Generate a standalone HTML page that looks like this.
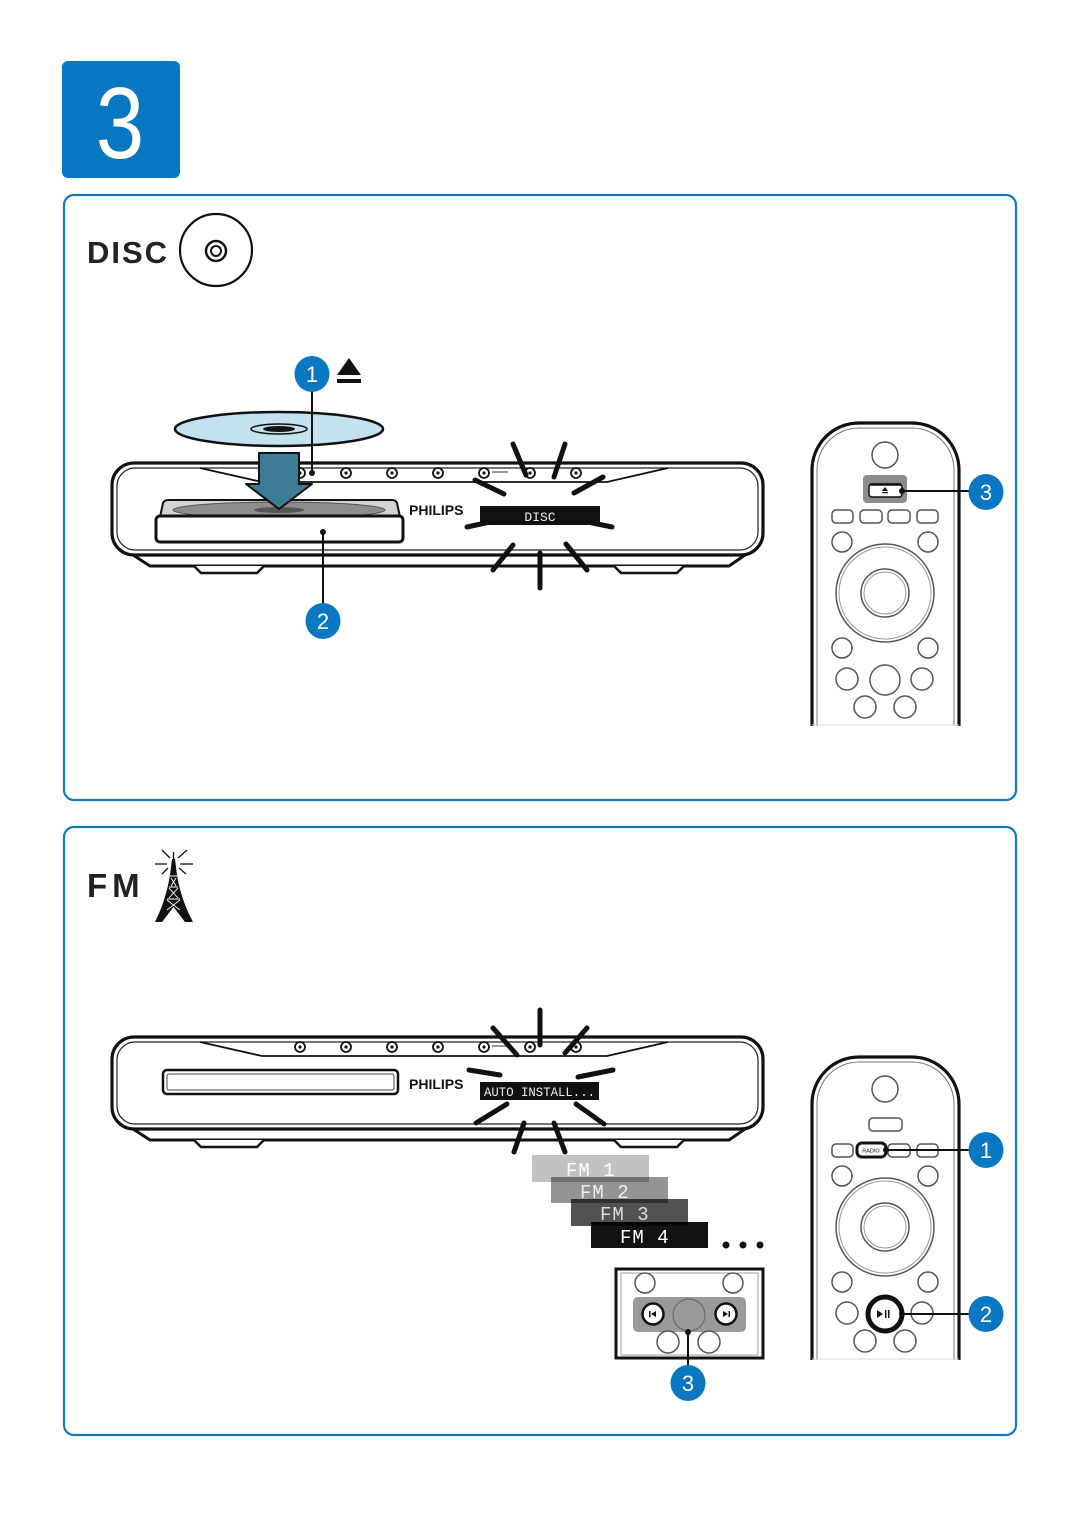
<!DOCTYPE html>
<html><head><meta charset="utf-8"><style>
html,body{margin:0;padding:0;background:#fff;}
svg{display:block;}
</style></head><body>
<svg width="1080" height="1527" viewBox="0 0 1080 1527" xmlns="http://www.w3.org/2000/svg" font-family="'Liberation Sans', sans-serif">
<defs>
  <g id="body">
    <path d="M130 553 L150 566 L729 566 L748 553 Z" fill="#fff" stroke="#111" stroke-width="3" stroke-linejoin="round"/>
    <path d="M194 566 L201 573 L257 573 L264 566" fill="#fff" stroke="#111" stroke-width="2.5"/>
    <path d="M614 566 L621 573 L677 573 L684 566" fill="#fff" stroke="#111" stroke-width="2.5"/>
    <rect x="112" y="463" width="651" height="92" rx="22" fill="#fff" stroke="#111" stroke-width="3.2"/>
    <rect x="117" y="468" width="641" height="82" rx="18" fill="none" stroke="#222" stroke-width="1.2"/>
    <path d="M200 468 L262 482 L607 482 L668 468" fill="none" stroke="#111" stroke-width="1.8"/>
    <g fill="#fff" stroke="#111" stroke-width="1.8">
      <circle cx="300" cy="473" r="5"/><circle cx="346" cy="473" r="5"/><circle cx="392" cy="473" r="5"/>
      <circle cx="438" cy="473" r="5"/><circle cx="484" cy="473" r="5"/><circle cx="530" cy="473" r="5"/>
      <circle cx="576" cy="473" r="5"/>
    </g>
    <g fill="#111">
      <circle cx="300" cy="473" r="1.6"/><circle cx="346" cy="473" r="1.6"/><circle cx="392" cy="473" r="1.6"/>
      <circle cx="438" cy="473" r="1.6"/><circle cx="484" cy="473" r="1.6"/><circle cx="530" cy="473" r="1.6"/>
      <circle cx="576" cy="473" r="1.6"/>
    </g>
    <rect x="492" y="471" width="16" height="2" fill="#999"/>
    <text x="409" y="515" font-size="14" font-weight="bold" fill="#111">PHILIPS</text>
  </g>
  <g id="remote">
    <path d="M812 726 L812 470 A47 47 0 0 1 859 423 L912 423 A47 47 0 0 1 959 470 L959 726" fill="#fff" stroke="#111" stroke-width="3.2"/>
    <path d="M817 726 L817 471 A42 42 0 0 1 859 428 L912 428 A42 42 0 0 1 954 471 L954 726" fill="none" stroke="#777" stroke-width="1"/>
    <line x1="812" y1="725" x2="959" y2="725" stroke="#ddd" stroke-width="1"/>
    <g fill="#fff" stroke="#555" stroke-width="1.5">
      <circle cx="885" cy="455" r="13"/>
      <rect x="869" y="484" width="33" height="13" rx="4"/>
      <rect x="832" y="510" width="21" height="13" rx="4"/>
      <rect x="860" y="510" width="22" height="13" rx="4"/>
      <rect x="888" y="510" width="22" height="13" rx="4"/>
      <rect x="917" y="510" width="21" height="13" rx="4"/>
      <circle cx="842" cy="542" r="10"/>
      <circle cx="928" cy="542" r="10"/>
      <circle cx="885" cy="593" r="49"/>
      <circle cx="885" cy="593" r="24"/>
      <circle cx="842" cy="648" r="10"/>
      <circle cx="928" cy="648" r="10"/>
      <circle cx="847" cy="679" r="11"/>
      <circle cx="885" cy="680" r="15"/>
      <circle cx="922" cy="679" r="11"/>
      <circle cx="865" cy="707" r="11"/>
      <circle cx="905" cy="707" r="11"/>
    </g>
    <g fill="none" stroke="#999" stroke-width="1">
      <circle cx="885" cy="593" r="46"/>
      <circle cx="885" cy="593" r="21"/>
    </g>
  </g>
</defs>

<!-- step number -->
<rect x="62" y="61" width="118" height="117" rx="6" fill="#0877c1"/>
<text transform="translate(120,158) scale(0.86,1)" x="0" y="0" font-size="101" fill="#fff" text-anchor="middle">3</text>

<!-- panels -->
<rect x="64" y="195" width="952" height="605" rx="10" fill="none" stroke="#1479c4" stroke-width="2.2"/>
<rect x="64" y="827" width="952" height="608" rx="10" fill="none" stroke="#1479c4" stroke-width="2.2"/>

<!-- DISC header -->
<text x="87" y="263" font-size="31" font-weight="bold" letter-spacing="2" fill="#222">DISC</text>
<circle cx="216" cy="250" r="36" fill="none" stroke="#111" stroke-width="2.2"/>
<circle cx="216" cy="251" r="10" fill="none" stroke="#111" stroke-width="2.4"/>
<circle cx="216" cy="251" r="5" fill="none" stroke="#111" stroke-width="2"/>

<!-- DISC device -->
<use href="#body"/>
<!-- tray -->
<path d="M160 517 L163 503 Q164 500 169 500 L392 500 Q396 500 397 503 L400 517 Z" fill="#d4d4d4" stroke="#111" stroke-width="2"/>
<ellipse cx="279" cy="510" rx="106" ry="8" fill="#8d8d8d" stroke="#555" stroke-width="1"/>
<ellipse cx="279" cy="510" rx="25" ry="3" fill="#555"/>
<rect x="156" y="516" width="247" height="26" rx="4" fill="#fff" stroke="#111" stroke-width="3"/>
<!-- disc -->
<ellipse cx="279" cy="429" rx="104" ry="17" fill="#c3e1ef" stroke="#111" stroke-width="2.5"/>
<ellipse cx="279" cy="429" rx="28" ry="5" fill="#c3e1ef" stroke="#111" stroke-width="1.5"/>
<ellipse cx="279" cy="429" rx="16" ry="3" fill="#111"/>
<!-- arrow -->
<path d="M259 453 L299 453 L299 484 L312 484 L279 509 L246 484 L259 484 Z" fill="#3c7d95" stroke="#111" stroke-width="2" stroke-linejoin="round"/>
<!-- eject symbol -->
<polygon points="337,375 361,375 349,358" fill="#111"/>
<rect x="337" y="379" width="24" height="4" fill="#111"/>
<!-- display -->
<rect x="480" y="506" width="120" height="19" fill="#111"/>
<text x="540" y="521" font-family="'Liberation Mono', monospace" font-size="13" fill="#eee" text-anchor="middle">DISC</text>
<g stroke="#111" stroke-width="5" stroke-linecap="round">
  <line x1="513" y1="444" x2="526" y2="475"/>
  <line x1="565" y1="444" x2="554" y2="477"/>
  <line x1="475" y1="480" x2="504" y2="494"/>
  <line x1="603" y1="477" x2="574" y2="493"/>
  <line x1="467" y1="527" x2="499" y2="520"/>
  <line x1="578" y1="520" x2="612" y2="527"/>
  <line x1="493" y1="570" x2="513" y2="545"/>
  <line x1="540" y1="553" x2="540" y2="588"/>
  <line x1="566" y1="544" x2="587" y2="570"/>
</g>
<!-- callouts disc -->
<line x1="312" y1="390" x2="312" y2="473" stroke="#111" stroke-width="2"/>
<circle cx="312" cy="473" r="3" fill="#111"/>
<ellipse cx="312" cy="374" rx="17.5" ry="18" fill="#0a77c2"/>
<text x="312" y="382" font-size="22" fill="#fff" text-anchor="middle">1</text>
<line x1="323" y1="532" x2="323" y2="606" stroke="#111" stroke-width="2"/>
<circle cx="323" cy="532" r="3" fill="#111"/>
<ellipse cx="323" cy="621" rx="17.5" ry="18" fill="#0a77c2"/>
<text x="323" y="629" font-size="22" fill="#fff" text-anchor="middle">2</text>

<!-- remote 1 -->
<use href="#remote"/>
<rect x="863" y="475" width="44" height="28" rx="4" fill="#8c8c8c"/>
<rect x="869" y="484" width="33" height="13" rx="3" fill="#fff" stroke="#111" stroke-width="1.5"/>
<line x1="870" y1="484.5" x2="901" y2="484.5" stroke="#111" stroke-width="2.5"/>
<polygon points="882,491 888,491 885,487" fill="#111"/>
<rect x="882" y="492" width="6" height="1.2" fill="#111"/>
<line x1="902" y1="491" x2="970" y2="491" stroke="#111" stroke-width="2"/>
<circle cx="902" cy="491" r="3" fill="#111"/>
<ellipse cx="986" cy="492" rx="17.5" ry="18" fill="#0a77c2"/>
<text x="986" y="500" font-size="22" fill="#fff" text-anchor="middle">3</text>

<!-- FM header -->
<text x="87" y="897" font-size="33" font-weight="bold" letter-spacing="5" fill="#222">FM</text>
<g stroke="#111" stroke-width="1.3">
  <line x1="155" y1="864" x2="167" y2="864"/>
  <line x1="180" y1="864" x2="193" y2="864"/>
  <line x1="162" y1="850" x2="170" y2="858"/>
  <line x1="187" y1="850" x2="178" y2="858"/>
  <line x1="162" y1="874" x2="168" y2="868"/>
  <line x1="186" y1="874" x2="179" y2="868"/>
  <line x1="173.5" y1="852" x2="173.5" y2="860"/>
</g>
<path d="M172 859 L175 859 L177 875 Q181 900 193 922 L185 922 L173.5 907 L162 922 L155 922 Q166 900 170 875 Z" fill="#111"/>
<g stroke="#fff" stroke-width="0.9" fill="none">
  <path d="M171 878 L176 886 M176 878 L171 886"/>
  <path d="M169 888 L178 898 M178 888 L169 898"/>
  <path d="M167 900 L180 910 M180 900 L167 910"/>
  <path d="M170 876 L177 876 M169 887 L178 887 M167 899 L180 899"/>
</g>

<!-- FM device -->
<use href="#body" y="574"/>
<rect x="163" y="1070" width="235" height="24" rx="4" fill="#fff" stroke="#111" stroke-width="2.5"/>
<rect x="167" y="1074" width="227" height="16" rx="2" fill="none" stroke="#444" stroke-width="1"/>
<rect x="480" y="1082" width="119" height="18" fill="#111"/>
<text x="484" y="1096" font-family="'Liberation Mono', monospace" font-size="13" fill="#eee" textLength="111" lengthAdjust="spacingAndGlyphs">AUTO INSTALL...</text>
<g stroke="#111" stroke-width="5" stroke-linecap="round">
  <line x1="540" y1="1010" x2="540" y2="1045"/>
  <line x1="493" y1="1028" x2="517" y2="1055"/>
  <line x1="587" y1="1028" x2="565" y2="1053"/>
  <line x1="469" y1="1070" x2="500" y2="1075"/>
  <line x1="578" y1="1077" x2="613" y2="1070"/>
  <line x1="476" y1="1123" x2="507" y2="1104"/>
  <line x1="576" y1="1104" x2="604" y2="1124"/>
  <line x1="524" y1="1123" x2="514" y2="1152"/>
  <line x1="554" y1="1123" x2="565" y2="1152"/>
</g>

<!-- FM stack -->
<g font-family="'Liberation Mono', monospace" font-size="19">
  <rect x="532" y="1155" width="117" height="27" fill="#000" fill-opacity="0.24"/>
  <text x="566" y="1176" fill="#fff" letter-spacing="1">FM 1</text>
  <rect x="551" y="1177" width="117" height="26" fill="#000" fill-opacity="0.42"/>
  <text x="580" y="1198" fill="#eee" letter-spacing="1">FM 2</text>
  <rect x="571" y="1199" width="117" height="27" fill="#000" fill-opacity="0.68"/>
  <text x="600" y="1220" fill="#ddd" letter-spacing="1">FM 3</text>
  <rect x="591" y="1222" width="117" height="26" fill="#000" fill-opacity="0.93"/>
  <text x="620" y="1243" fill="#fff" letter-spacing="1">FM 4</text>
</g>
<circle cx="726" cy="1245" r="3.5" fill="#111"/>
<circle cx="743" cy="1245" r="3.5" fill="#111"/>
<circle cx="760" cy="1245" r="3.5" fill="#111"/>

<!-- small panel -->
<rect x="616" y="1269" width="147" height="89" fill="#fff" stroke="#111" stroke-width="3"/>
<rect x="621" y="1273" width="137" height="82" fill="none" stroke="#888" stroke-width="0.8"/>
<g fill="#fff" stroke="#555" stroke-width="1.5">
  <circle cx="645" cy="1283" r="10"/>
  <circle cx="733" cy="1283" r="10"/>
</g>
<rect x="633" y="1297" width="113" height="35" rx="5" fill="#9a9a9a"/>
<g fill="#fff" stroke="#555" stroke-width="1.5">
  <circle cx="668" cy="1342" r="11"/>
  <circle cx="709" cy="1342" r="11"/>
</g>
<circle cx="689" cy="1315" r="16" fill="#999" stroke="#6a6a6a" stroke-width="1.2"/>
<circle cx="653" cy="1314" r="10.5" fill="#fff" stroke="#111" stroke-width="2.5"/>
<circle cx="726" cy="1314" r="10.5" fill="#fff" stroke="#111" stroke-width="2.5"/>
<rect x="649" y="1311" width="1.5" height="6" fill="#111"/>
<polygon points="656,1311 656,1317 651,1314" fill="#111"/>
<polygon points="723,1311 723,1317 728,1314" fill="#111"/>
<rect x="728.5" y="1311" width="1.5" height="6" fill="#111"/>
<line x1="688" y1="1332" x2="688" y2="1367" stroke="#111" stroke-width="2"/>
<circle cx="688" cy="1332" r="3" fill="#111"/>
<ellipse cx="688" cy="1383" rx="17.5" ry="18" fill="#0a77c2"/>
<text x="688" y="1391" font-size="22" fill="#fff" text-anchor="middle">3</text>

<!-- remote 2 -->
<use href="#remote" y="634"/>
<rect x="857" y="1143" width="29" height="14" rx="5" fill="#fff" stroke="#111" stroke-width="3"/>
<text x="871" y="1152.5" font-size="5.5" fill="#111" text-anchor="middle">RADIO</text>
<line x1="886" y1="1150" x2="970" y2="1150" stroke="#111" stroke-width="2"/>
<circle cx="886" cy="1150" r="3" fill="#111"/>
<ellipse cx="986" cy="1150" rx="17.5" ry="18" fill="#0a77c2"/>
<text x="986" y="1158" font-size="22" fill="#fff" text-anchor="middle">1</text>
<circle cx="885" cy="1314" r="17" fill="#fff" stroke="#111" stroke-width="5"/>
<polygon points="877,1310 877,1318 883,1314" fill="#111"/>
<rect x="885" y="1310" width="1.5" height="8" fill="#111"/>
<rect x="888" y="1310" width="1.5" height="8" fill="#111"/>
<line x1="902" y1="1314" x2="970" y2="1314" stroke="#111" stroke-width="2"/>
<circle cx="902" cy="1314" r="3" fill="#111"/>
<ellipse cx="986" cy="1314" rx="17.5" ry="18" fill="#0a77c2"/>
<text x="986" y="1322" font-size="22" fill="#fff" text-anchor="middle">2</text>
</svg>
</body></html>
